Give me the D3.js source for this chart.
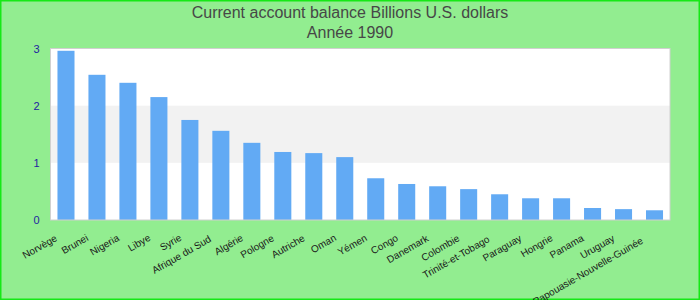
<!DOCTYPE html>
<html>
<head>
<meta charset="utf-8">
<script src="https://cdn.jsdelivr.net/npm/d3@7"></script>
<style>
  body { margin: 0; background: #fff; }
  text { font-family: "Liberation Sans", Arial, sans-serif; }
</style>
</head>
<body>
<div id="chart"></div>
<script>
var titleLines = ["Current account balance Billions U.S. dollars", "Année 1990"];
var countries = ["Norvège", "Brunei", "Nigeria", "Libye", "Syrie", "Afrique du Sud", "Algérie",
    "Pologne", "Autriche", "Oman", "Yémen", "Congo", "Danemark", "Colombie", "Trinité-et-Tobago",
    "Paraguay", "Hongrie", "Panama", "Uruguay", "Papouasie-Nouvelle-Guinée"];
var balances = [2.96, 2.54, 2.40, 2.15, 1.75, 1.56, 1.35, 1.19, 1.17, 1.10, 0.73, 0.63,
    0.59, 0.54, 0.45, 0.38, 0.38, 0.21, 0.19, 0.17];
var yTicks = [0, 1, 2, 3];

var width = 700, height = 300;
var margin = {top: 48.5, right: 30, bottom: 80, left: 50.5};

var svg = d3.select("#chart").append("svg")
    .attr("width", width)
    .attr("height", height);

svg.append("rect")
    .attr("x", 0.75).attr("y", 0.75)
    .attr("width", width - 1.5).attr("height", height - 1.5)
    .attr("fill", "#92ed90")
    .attr("stroke", "#16e816")
    .attr("stroke-width", 1.5);

var x = d3.scaleBand()
    .domain(countries)
    .range([margin.left, width - margin.right])
    .paddingInner(0.45)
    .paddingOuter(0.225);

var y = d3.scaleLinear()
    .domain([0, 3])
    .range([height - margin.bottom, margin.top]);

// plot background with alternating band
svg.append("rect")
    .attr("x", margin.left).attr("y", y(3))
    .attr("width", width - margin.right - margin.left)
    .attr("height", y(0) - y(3))
    .attr("fill", "#fff");

svg.append("rect")
    .attr("x", margin.left).attr("y", y(2))
    .attr("width", width - margin.right - margin.left)
    .attr("height", y(1) - y(2))
    .attr("fill", "#f2f2f2");

svg.selectAll(".bar")
    .data(balances)
    .enter().append("rect")
    .attr("class", "bar")
    .attr("x", function (d, i) { return x(countries[i]); })
    .attr("y", function (d) { return y(d); })
    .attr("width", x.bandwidth())
    .attr("height", function (d) { return y(0) - y(d); })
    .attr("fill", "#62aaf4");

svg.append("rect")
    .attr("x", margin.left).attr("y", y(3))
    .attr("width", width - margin.right - margin.left)
    .attr("height", y(0) - y(3))
    .attr("fill", "none")
    .attr("stroke", "#d0d0d0")
    .attr("stroke-width", 1);

// y axis labels only
var yAxis = d3.axisLeft(y).tickValues(yTicks).tickSize(0).tickPadding(11)
    .tickFormat(d3.format("d"));
var yg = svg.append("g")
    .attr("transform", "translate(" + margin.left + ",0)")
    .call(yAxis);
yg.select(".domain").remove();
yg.selectAll("text")
    .attr("fill", "#2323a0")
    .style("font-size", "11px");

// x axis labels, rotated
var xAxis = d3.axisBottom(x).tickSize(0).tickPadding(0);
var xg = svg.append("g")
    .attr("transform", "translate(0," + y(0) + ")")
    .call(xAxis);
xg.select(".domain").remove();
xg.selectAll("text")
    .attr("fill", "#1a1a1a")
    .style("font-size", "10px")
    .attr("text-anchor", "end")
    .attr("y", 0)
    .attr("dy", 0)
    .attr("transform", function () {
        var len = this.getComputedTextLength();
        return "translate(" + (-7 - len * 0.03) + "," + (19 + len * 0.03) + ") rotate(-30)";
    });

// title
svg.append("g").selectAll("text")
    .data(titleLines)
    .enter().append("text")
    .attr("x", width / 2)
    .attr("y", function (d, i) { return 18 + i * 20; })
    .attr("text-anchor", "middle")
    .attr("fill", "#474747")
    .style("font-size", "16px")
    .text(function (d) { return d; });
</script>
</body>
</html>
